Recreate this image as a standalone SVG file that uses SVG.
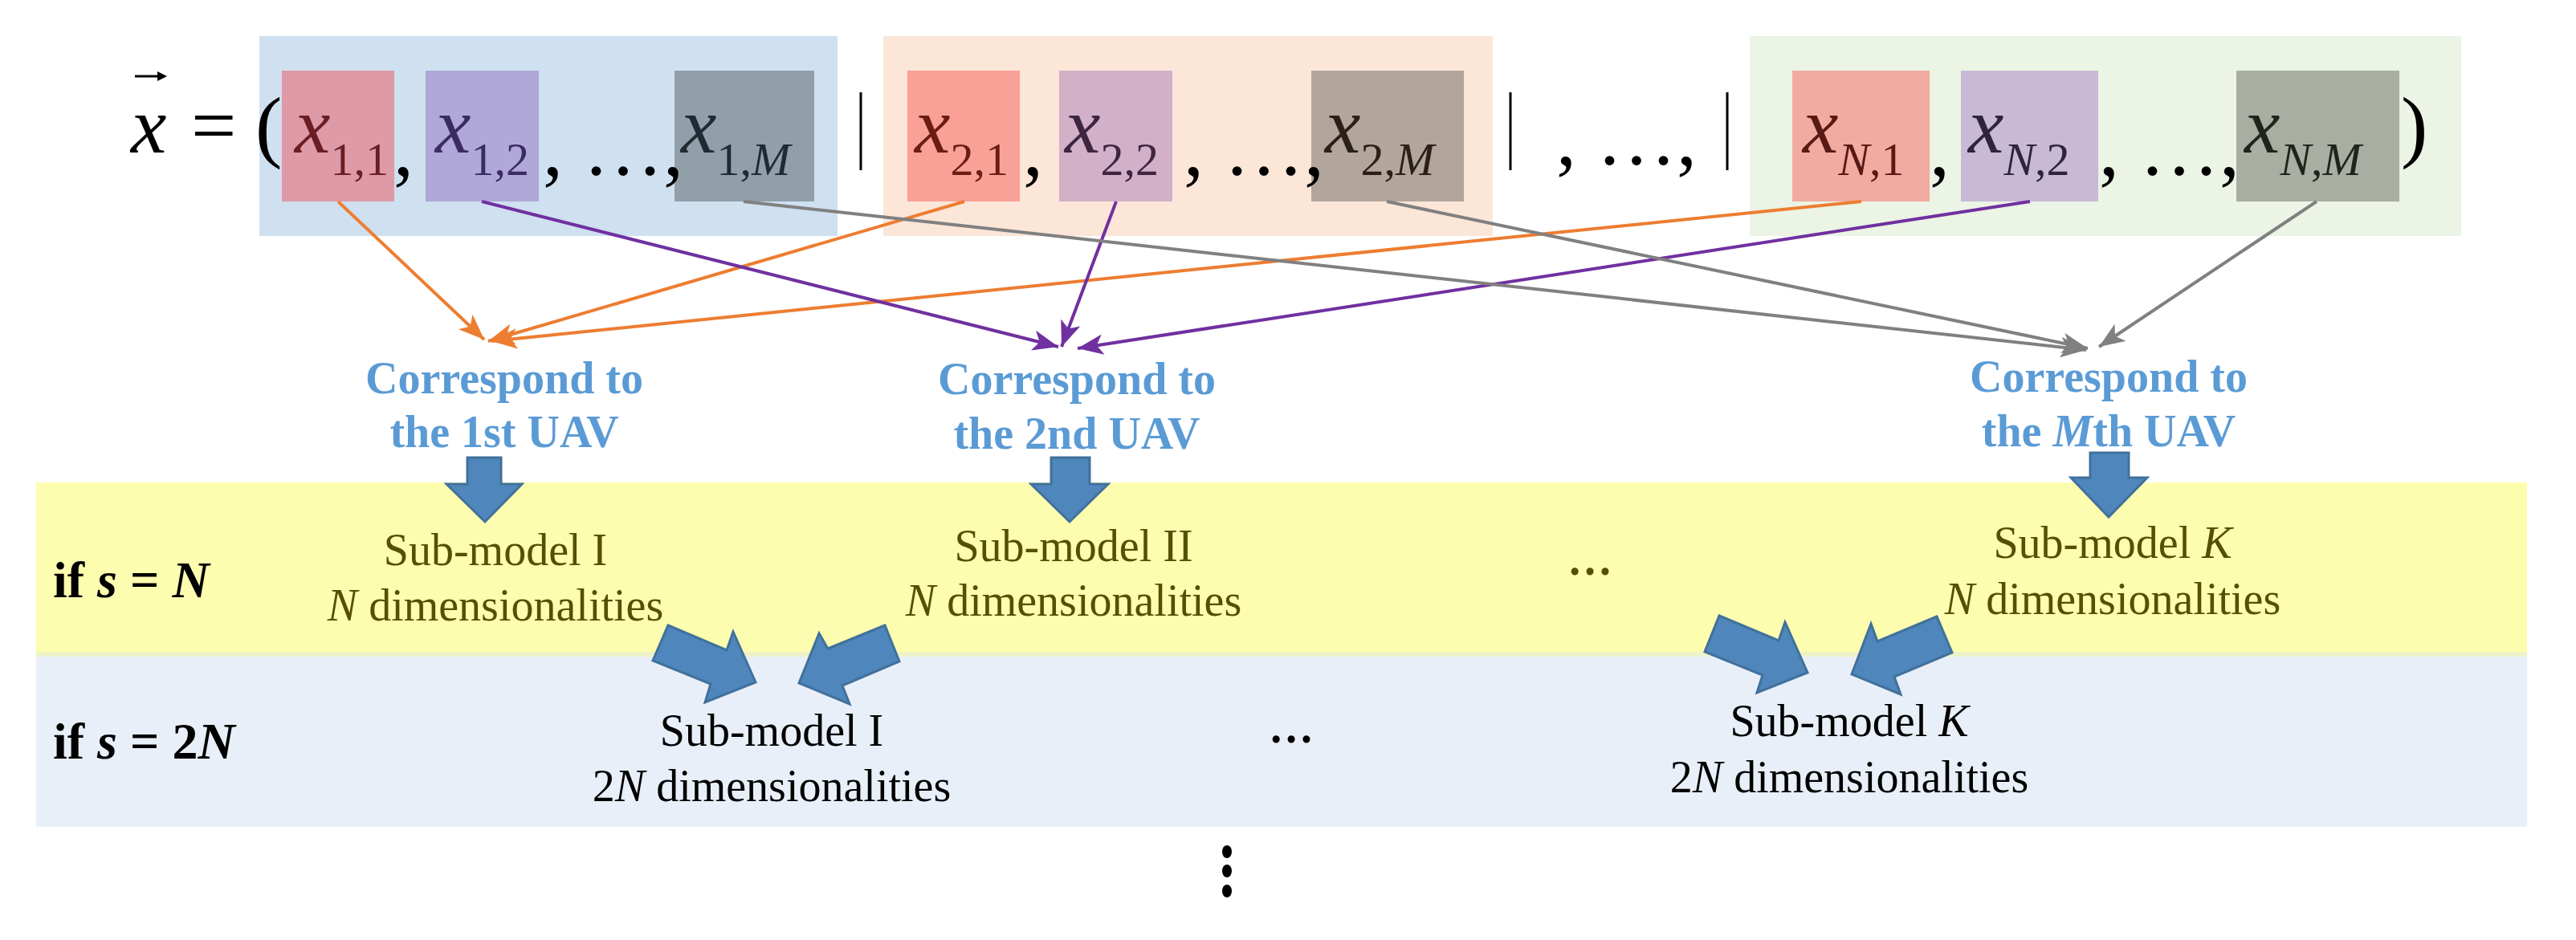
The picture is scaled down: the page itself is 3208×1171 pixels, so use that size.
<svg xmlns="http://www.w3.org/2000/svg" width="3208" height="1171" viewBox="0 0 3208 1171">
<style>
.m{font-family:"Liberation Serif",serif;font-size:100px;font-style:italic}
.s{font-size:58px;font-style:normal}
.si{font-size:58px;font-style:italic}
.p{font-family:"Liberation Serif",serif;font-size:100px}
.c{font-family:"Liberation Serif",serif;font-size:56px;font-weight:bold;fill:#5b9bd5;text-anchor:middle}
.t{font-family:"Liberation Serif",serif;font-size:56px;text-anchor:middle}
.y{fill:#555000}
.k{fill:#000}
.i{font-style:italic}
.lbl{font-family:"Liberation Serif",serif;font-size:64px;font-weight:bold}
.ba{fill:#4f86bb;stroke:#41719c;stroke-width:3}
.ln{fill:none;stroke-width:4}
</style>
<defs>
<marker id="ao" viewBox="0 0 10 8" refX="10" refY="4" markerWidth="8" markerHeight="6.4" orient="auto" markerUnits="strokeWidth"><path d="M0,0L10,4L0,8L2.5,4z" fill="#ed7d31"/></marker>
<marker id="ap" viewBox="0 0 10 8" refX="10" refY="4" markerWidth="8" markerHeight="6.4" orient="auto" markerUnits="strokeWidth"><path d="M0,0L10,4L0,8L2.5,4z" fill="#7030a0"/></marker>
<marker id="ag" viewBox="0 0 10 8" refX="10" refY="4" markerWidth="8" markerHeight="6.4" orient="auto" markerUnits="strokeWidth"><path d="M0,0L10,4L0,8L2.5,4z" fill="#808080"/></marker>
</defs>
<rect width="3208" height="1171" fill="#fff"/>
<g id="bands">
<rect x="45" y="601" width="3102" height="215" fill="#fdfdb0"/>
<rect x="45" y="816" width="3102" height="214" fill="#e9eff8"/>
<rect x="45" y="812" width="3102" height="6" fill="#eef2c8"/>
</g>
<g id="vector">
<rect x="323" y="45" width="720" height="249" fill="#cfe0f1"/>
<rect x="1100" y="45" width="759" height="249" fill="#fbe6d8"/>
<rect x="2179" y="45" width="886" height="249" fill="#ebf4e5"/>
<rect x="351" y="88" width="140" height="163" fill="#de9aa6"/>
<rect x="530" y="88" width="141" height="163" fill="#b0a8d8"/>
<rect x="840" y="88" width="174" height="163" fill="#919fa8"/>
<rect x="1130" y="88" width="140" height="163" fill="#f9a097"/>
<rect x="1319" y="88" width="141" height="163" fill="#d2b0c8"/>
<rect x="1633" y="88" width="190" height="163" fill="#b2a59c"/>
<rect x="2232" y="88" width="171" height="163" fill="#f2aba1"/>
<rect x="2442" y="88" width="171" height="163" fill="#c8bad6"/>
<rect x="2785" y="88" width="203" height="163" fill="#a9aea3"/>
<text x="163" y="190" class="m">x</text>
<path d="M168,95H200" stroke="#000" stroke-width="3"/><path d="M196,89L208,95L196,101z" fill="#000"/>
<text x="238" y="190" class="p">=</text>
<text x="318" y="190" class="p">(</text>
<text x="367" y="190" class="m" fill="#6b1d24">x<tspan class="s" dy="28">1,1</tspan></text>
<text x="490" y="218" class="p" font-size="58">,</text>
<text x="542" y="190" class="m" fill="#3a2c62">x<tspan class="s" dy="28">1,2</tspan></text>
<text x="676" y="218" class="p" font-size="58">, …,</text>
<text x="848" y="190" class="m" fill="#1f2a33">x<tspan class="s" dy="28">1,</tspan><tspan class="si">M</tspan></text>
<path d="M1072,115V212M1881,115V212M2151,115V212" stroke="#000" stroke-width="3"/>
<text x="1139" y="190" class="m" fill="#6b1d14">x<tspan class="s" dy="28">2,1</tspan></text>
<text x="1274" y="218" class="p" font-size="58">,</text>
<text x="1326" y="190" class="m" fill="#3e2540">x<tspan class="s" dy="28">2,2</tspan></text>
<text x="1474" y="218" class="p" font-size="58">, …,</text>
<text x="1650" y="190" class="m" fill="#2a2018">x<tspan class="s" dy="28">2,</tspan><tspan class="si">M</tspan></text>
<text x="1938" y="205" class="p" font-size="70">, …,</text>
<text x="2245" y="190" class="m" fill="#5a1a14">x<tspan class="si" dy="28">N</tspan><tspan class="s">,1</tspan></text>
<text x="2403" y="218" class="p" font-size="58">,</text>
<text x="2451" y="190" class="m" fill="#2e2440">x<tspan class="si" dy="28">N</tspan><tspan class="s">,2</tspan></text>
<text x="2614" y="218" class="p" font-size="58">, …,</text>
<text x="2795" y="190" class="m" fill="#1f241c">x<tspan class="si" dy="28">N</tspan><tspan class="s">,</tspan><tspan class="si">M</tspan></text>
<text x="2990" y="190" class="p">)</text>
</g>
<g id="connectors">
<path class="ln" stroke="#ed7d31" marker-end="url(#ao)" d="M421,251L603,423"/>
<path class="ln" stroke="#ed7d31" marker-end="url(#ao)" d="M1201,251L608,425"/>
<path class="ln" stroke="#ed7d31" marker-end="url(#ao)" d="M2318,251L612,425"/>
<path class="ln" stroke="#7030a0" marker-end="url(#ap)" d="M600,251L1318,432"/>
<path class="ln" stroke="#7030a0" marker-end="url(#ap)" d="M1390,251L1322,432"/>
<path class="ln" stroke="#7030a0" marker-end="url(#ap)" d="M2528,251L1342,434"/>
<path class="ln" stroke="#808080" marker-end="url(#ag)" d="M926,251L2598,436"/>
<path class="ln" stroke="#808080" marker-end="url(#ag)" d="M1727,251L2600,434"/>
<path class="ln" stroke="#808080" marker-end="url(#ag)" d="M2885,251L2614,432"/>
<polygon class="ba" points="582,570 624,570 624,603 650,603 604,650 556,603 582,603"/>
<polygon class="ba" points="1309,570 1357,570 1357,603 1380,603 1332,650 1284,603 1309,603"/>
<polygon class="ba" points="2603,564 2651,564 2651,595 2674,595 2626,644 2579,595 2603,595"/>
<polygon class="ba" points="832,779 905,810 913,787 941,850 878,875 885,852 813,823"/>
<polygon class="ba" points="1102,779 1031,808 1020,789 995,851 1058,877 1049,854 1120,824"/>
<polygon class="ba" points="2141,767 2215,798 2223,775 2251,838 2188,863 2195,841 2123,812"/>
<polygon class="ba" points="2412,768 2338,799 2330,777 2306,840 2367,865 2359,843 2431,813"/>
</g>
<g id="uav1"><text x="628" y="490" class="c">Correspond to</text><text x="628" y="557" class="c">the 1st UAV</text></g>
<g id="uav2"><text x="1341" y="491" class="c">Correspond to</text><text x="1341" y="559" class="c">the 2nd UAV</text></g>
<g id="uavM"><text x="2626" y="488" class="c">Correspond to</text><text x="2626" y="556" class="c">the <tspan class="i">M</tspan>th UAV</text></g>
<g id="labels">
<text x="66" y="744" class="lbl">if <tspan class="i">s</tspan> = <tspan class="i">N</tspan></text>
<text x="66" y="945" class="lbl">if <tspan class="i">s</tspan> = 2<tspan class="i">N</tspan></text>
</g>
<g id="sub1N" class="y"><text x="617" y="704" class="t y">Sub-model I</text><text x="617" y="773" class="t y"><tspan class="i">N</tspan> dimensionalities</text></g>
<g id="sub2N"><text x="1337" y="699" class="t y">Sub-model II</text><text x="1337" y="767" class="t y"><tspan class="i">N</tspan> dimensionalities</text></g>
<text x="1980" y="716" class="t y" font-weight="bold">…</text>
<g id="subKN"><text x="2631" y="695" class="t y">Sub-model <tspan class="i">K</tspan></text><text x="2631" y="765" class="t y"><tspan class="i">N</tspan> dimensionalities</text></g>
<g id="sub1_2N"><text x="961" y="929" class="t k">Sub-model I</text><text x="961" y="998" class="t k">2<tspan class="i">N</tspan> dimensionalities</text></g>
<text x="1608" y="925" class="t k" font-weight="bold">…</text>
<g id="subK_2N"><text x="2303" y="917" class="t k">Sub-model <tspan class="i">K</tspan></text><text x="2303" y="987" class="t k">2<tspan class="i">N</tspan> dimensionalities</text></g>
<g id="vdots" fill="#000"><ellipse cx="1528" cy="1061" rx="6" ry="8"/><ellipse cx="1528" cy="1085" rx="6" ry="8"/><ellipse cx="1528" cy="1110" rx="6" ry="8"/></g>
</svg>
